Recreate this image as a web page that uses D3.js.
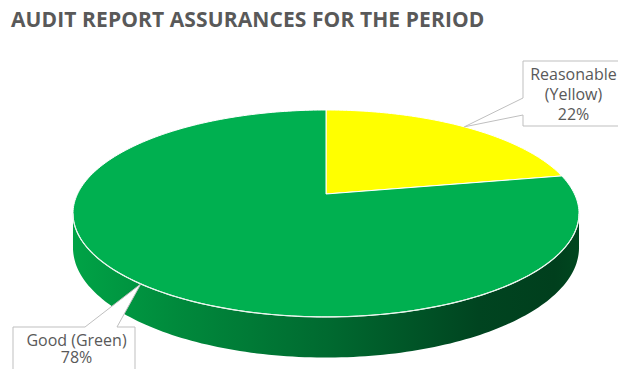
<!DOCTYPE html>
<html lang="en">

<head>
  <meta charset="UTF-8">
  <title>Audit report assurances</title>
  <style>
    body { margin: 0; background: #fff; }
    text { font-family: "Open Sans", "DejaVu Sans", sans-serif; fill: #595959; }
  </style>
</head>

<body>
  <svg></svg>
  <script src="https://cdn.jsdelivr.net/npm/d3@7"></script>
  <script>
    // data
    var categories = ["Reasonable (Yellow)", "Good (Green)"];
    var values = [22, 78];
    var labelLines = [["Reasonable", "(Yellow)"], ["Good (Green)"]];
    var sliceColors = ["#ffff00", "#00b050"];
    var title = "AUDIT REPORT ASSURANCES FOR THE PERIOD";

    var width = 618, height = 369;
    var svg = d3.select("svg").attr("width", width).attr("height", height);

    // perspective of the tilted disk
    var cx = 326, cy = 194, A = 248.5, B = 99.8, H = 33, k = 0.188;
    function proj(a, z) {
      var u = Math.sin(a), v = -Math.cos(a);
      var s = 1 / (1 - k * v);
      return [cx + A * u * s, cy + (B * v + H * z) * s];
    }
    function arcPts(a0, a1, z) {
      var n = Math.max(2, Math.ceil(Math.abs(a1 - a0) / 0.02));
      return d3.range(n + 1).map(function (i) { return proj(a0 + (a1 - a0) * i / n, z); });
    }

    var pie = d3.pie().sort(null).value(function (d) { return d; });
    var arcs = pie(values);
    var line = d3.line();

    // side wall gradient
    var defs = svg.append("defs");
    var grad = defs.append("linearGradient").attr("id", "side")
      .attr("gradientUnits", "userSpaceOnUse")
      .attr("x1", 73).attr("x2", 580).attr("y1", 0).attr("y2", 0);
    [[0, "#00a346"], [0.2, "#008a3c"], [0.5, "#006a30"], [0.8, "#004420"], [0.95, "#003f1d"], [1, "#00471f"]]
      .forEach(function (s) { grad.append("stop").attr("offset", s[0]).attr("stop-color", s[1]); });

    var aR = Math.acos(-k), aL = 2 * Math.PI - aR;
    var side = arcPts(aR, aL, 0).concat(arcPts(aL, aR, 1));
    svg.append("path").attr("d", line(side) + "Z").attr("fill", "url(#side)");

    // top faces
    svg.append("g").selectAll("path")
      .data(arcs)
      .join("path")
      .attr("d", function (d) {
        return line([[cx, cy]].concat(arcPts(d.startAngle, d.endAngle, 0))) + "Z";
      })
      .attr("fill", function (d, i) { return sliceColors[i]; })
      .attr("stroke", "#ffffff")
      .attr("stroke-width", 1)
      .attr("stroke-linejoin", "round");

    // rim highlight
    svg.append("path").attr("d", line(arcPts(aR, aL, 0)))
      .attr("fill", "none").attr("stroke", "#e8f5ec").attr("stroke-width", 1.2);

    // title
    svg.append("text").attr("x", 11).attr("y", 27)
      .attr("font-size", "21px").attr("font-weight", "bold")
      .attr("letter-spacing", "0.1px")
      .text(title);

    // callout labels
    var boxes = [
      { x0: 523, x1: 624, y0: 61, y1: 126, side: "left", b0: 98, b1: 115, cxT: 573.5, base: 80, step: 20 },
      { x0: 13, x1: 135, y0: 327, y1: 380, side: "top", b0: 85, b1: 117, cxT: 76.5, base: 346, step: 17 }
    ];
    var fmt = d3.format(".0%");
    var total = d3.sum(values);
    arcs.forEach(function (d, i) {
      var b = boxes[i];
      var tip = proj((d.startAngle + d.endAngle) / 2, 0);
      var p;
      if (b.side === "left") {
        p = [[b.x0, b.y0], [b.x1, b.y0], [b.x1, b.y1], [b.x0, b.y1], [b.x0, b.b1], tip, [b.x0, b.b0]];
      } else {
        p = [[b.x0, b.y0], [b.b0, b.y0], tip, [b.b1, b.y0], [b.x1, b.y0], [b.x1, b.y1], [b.x0, b.y1]];
      }
      svg.append("path").attr("d", line(p) + "Z")
        .attr("fill", "#ffffff").attr("stroke", "#bfbfbf").attr("stroke-width", 1);
      var lines = labelLines[i].concat([fmt(values[i] / total)]);
      svg.append("text")
        .attr("text-anchor", "middle").attr("font-size", "16px")
        .selectAll("tspan").data(lines).join("tspan")
        .attr("x", b.cxT).attr("y", function (t, j) { return b.base + j * b.step; })
        .text(function (t) { return t; });
    });
  </script>
</body>

</html>
